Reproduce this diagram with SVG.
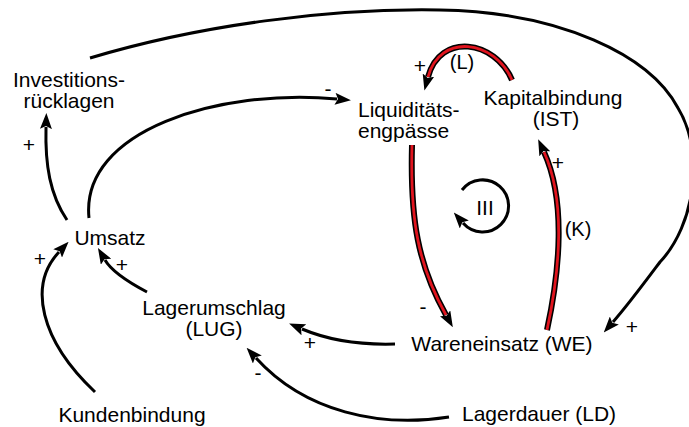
<svg xmlns="http://www.w3.org/2000/svg" width="689" height="427" viewBox="0 0 689 427">
<defs>
<marker id="arr" markerUnits="userSpaceOnUse" markerWidth="16" markerHeight="12" viewBox="0 0 16 12" refX="2" refY="6" orient="auto">
<path d="M0,0 L16,6 L0,12 L3,6 z" fill="#000"/>
</marker>
<style>
.t{font-family:"Liberation Sans",Arial,Helvetica,sans-serif;font-size:21px;fill:#000;text-anchor:middle}
.s{font-family:"Liberation Sans",Arial,Helvetica,sans-serif;font-size:21px;fill:#000;text-anchor:middle}
.l{fill:none;stroke:#000;stroke-width:3}
.ro{fill:none;stroke:#000;stroke-width:6}
.ri{fill:none;stroke:#e0141e;stroke-width:2.8}
</style>
</defs>
<rect width="689" height="427" fill="#fff"/>
<g id="connectors">
<path class="l" marker-end="url(#arr)" d="M90,58 C200,25 330,8 440,10 C560,12 650,55 678,108 C705,152 695,225 660,262 C645,282 628,305 613,322"/>
<path class="l" marker-end="url(#arr)" d="M67,220 C50,195 45,165 46,127"/>
<path class="l" marker-end="url(#arr)" d="M89,218 C80,130 220,88 337,99"/>
<path class="ro" marker-end="url(#arr)" d="M512,80 C495,40 440,32 428,77"/>
<path class="ri" d="M512,80 C495,40 440,32 428,77"/>
<path class="ro" marker-end="url(#arr)" d="M412,145 C410,220 418,265 446,315"/>
<path class="ri" d="M412,145 C410,220 418,265 446,315"/>
<path class="ro" marker-end="url(#arr)" d="M547,330 C560,270 566,200 544,152"/>
<path class="ri" d="M547,330 C560,270 566,200 544,152"/>
<path class="l" marker-end="url(#arr)" d="M462,190 A26,26 0 1 1 463,223"/>
<path class="l" marker-end="url(#arr)" d="M395,344 C362,345 328,340 302,329"/>
<path class="l" marker-end="url(#arr)" d="M449,417 C380,428 305,412 256,358"/>
<path class="l" marker-end="url(#arr)" d="M147,292 C128,282 112,272 105,260"/>
<path class="l" marker-end="url(#arr)" d="M95,392 C40,340 28,285 59,252"/>
</g>
<g id="labels">
<text class="s" x="29" y="152">+</text>
<text class="s" x="328" y="96">-</text>
<text class="s" x="420" y="73">+</text>
<text class="t" x="462" y="69" style="font-size:20px">(L)</text>
<text class="s" x="558" y="170">+</text>
<text class="t" x="578" y="236" style="font-size:20px">(K)</text>
<text class="s" x="423" y="314">-</text>
<text class="s" x="632" y="334">+</text>
<text class="s" x="310" y="350">+</text>
<text class="s" x="258" y="380">-</text>
<text class="s" x="122" y="272">+</text>
<text class="s" x="40" y="266">+</text>
<text class="t" x="485" y="215">III</text>
</g>
<g id="investitionsruecklagen"><text class="t" x="69" y="87">Investitions-</text><text class="t" x="69" y="108">rücklagen</text></g>
<g id="liquiditaetsengpaesse"><text class="t" x="358" y="117" style="text-anchor:start">Liquiditäts-</text><text class="t" x="358" y="138" style="text-anchor:start">engpässe</text></g>
<g id="kapitalbindung"><text class="t" x="553" y="105">Kapitalbindung</text><text class="t" x="556" y="126">(IST)</text></g>
<g id="umsatz"><text class="t" x="110" y="245">Umsatz</text></g>
<g id="lagerumschlag"><text class="t" x="214" y="315">Lagerumschlag</text><text class="t" x="214" y="336">(LUG)</text></g>
<g id="wareneinsatz"><text class="t" x="502" y="351">Wareneinsatz (WE)</text></g>
<g id="kundenbindung"><text class="t" x="132" y="422">Kundenbindung</text></g>
<g id="lagerdauer"><text class="t" x="539" y="421">Lagerdauer (LD)</text></g>
</svg>
